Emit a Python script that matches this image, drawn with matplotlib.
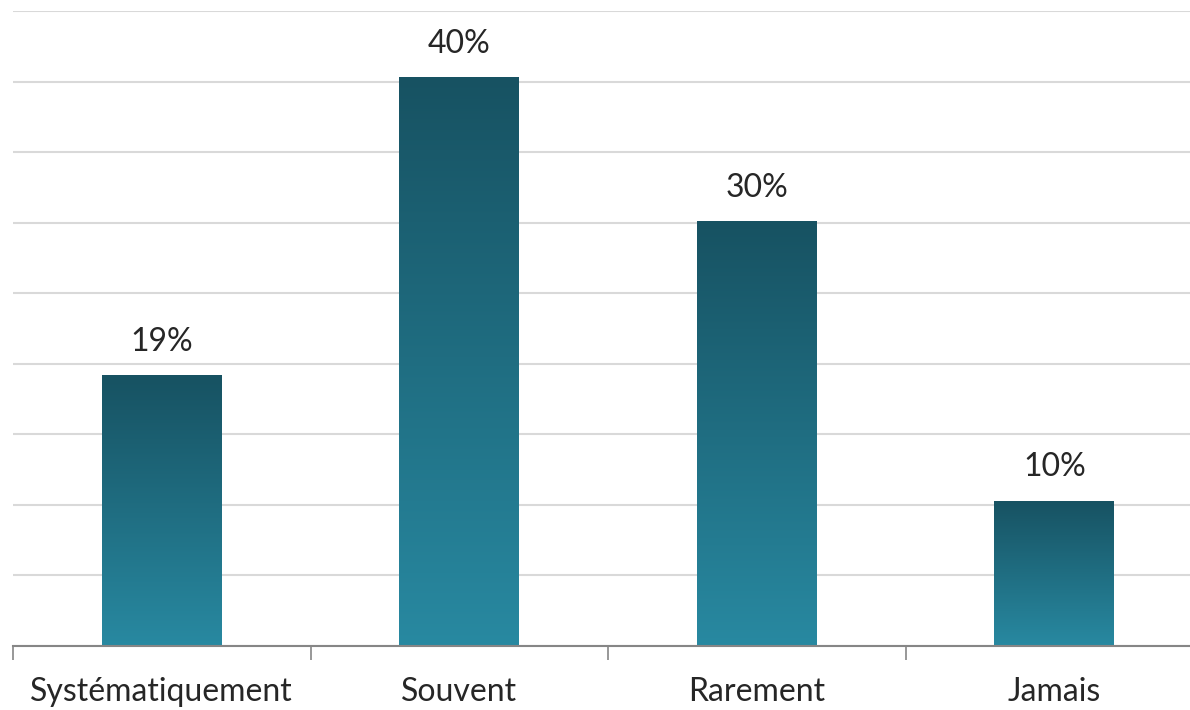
import numpy as np
import matplotlib.pyplot as plt
from matplotlib.colors import LinearSegmentedColormap

categories = ['Systématiquement', 'Souvent', 'Rarement', 'Jamais']
values = [19.2, 40.3, 30.1, 10.3]
labels = ['19%', '40%', '30%', '10%']

plt.rcParams['font.family'] = ['Lato', 'DejaVu Sans']

fig = plt.figure(figsize=(11.9, 7.1), dpi=100)
ax = fig.add_axes([13 / 1190, 1 - 646 / 710, 1 - 13 / 1190, (646 - 11) / 710])

x = np.arange(len(categories))
bars = ax.bar(x, values, width=0.403, color='none', edgecolor='none', zorder=3)

# vertical gradient per bar, dark at top
cmap = LinearSegmentedColormap.from_list('teal', ['#2889a1', '#175262'])
grad = np.linspace(0, 1, 256).reshape(-1, 1)
for b in bars:
    x0, y0 = b.get_x(), b.get_y()
    im = ax.imshow(grad, cmap=cmap, aspect='auto', origin='lower',
                   extent=[x0, x0 + b.get_width(), y0, y0 + b.get_height()], zorder=3)
    im.set_clip_path(b)

for xi, v, lab in zip(x, values, labels):
    ax.annotate(lab, (xi, v), xytext=(0, 24), textcoords='offset points',
                ha='center', va='center', fontsize=23, color='#262626')

ax.set_yticks(np.arange(0, 46, 5))
ax.yaxis.grid(True, color='#d9d9d9', linewidth=1.5, zorder=0)
ax.tick_params(axis='y', left=False, labelleft=False)

ax.set_xticks(x)
ax.set_xticklabels(categories, fontsize=23, color='#262626')
ax.tick_params(axis='x', length=0, pad=22)
ax.set_xticks(np.arange(-0.5, 4, 1), minor=True)
ax.tick_params(axis='x', which='minor', length=10, width=1.2, color='#868686')

ax.set_xlim(-0.5, -0.5 + (1190 - 13) / 297.5)
ax.set_ylim(0, 45)

for s in ['top', 'right', 'left']:
    ax.spines[s].set_visible(False)
ax.spines['bottom'].set_color('#868686')
ax.spines['bottom'].set_linewidth(1.5)
ax.spines['bottom'].set_zorder(4)

fig.savefig('out.png', dpi=100)
